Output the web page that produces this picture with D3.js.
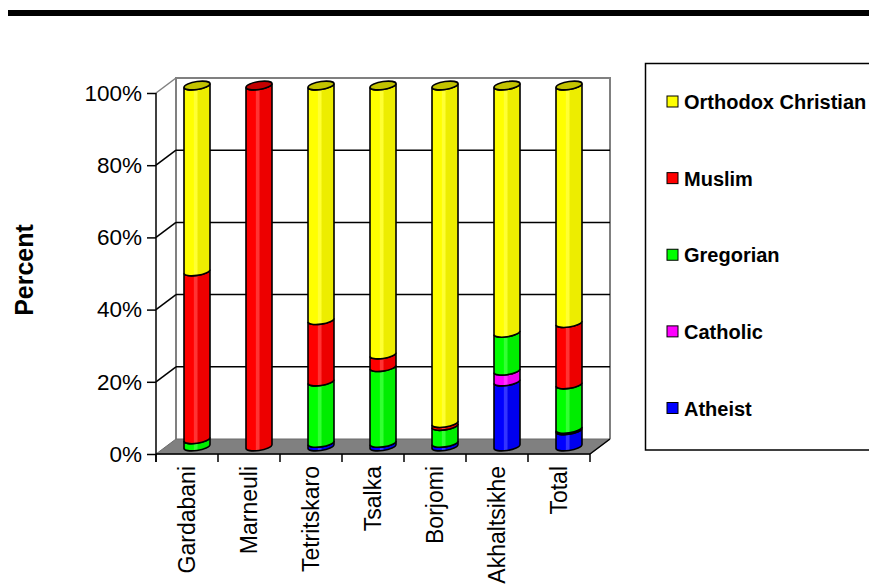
<!DOCTYPE html>
<html>
<head>
<meta charset="utf-8">
<script src="https://cdn.jsdelivr.net/npm/d3@7"></script>
<style>
  html, body { margin: 0; padding: 0; background: #fff; }
  svg { display: block; font-family: "Liberation Sans", Arial, sans-serif; }
</style>
</head>
<body>
<svg id="chart" width="869" height="586"></svg>
<script>
// Religious affiliation by district, percent of respondents
const districts = ["Gardabani", "Marneuli", "Tetritskaro", "Tsalka", "Borjomi", "Akhaltsikhe", "Total"];
const seriesNames = ["Atheist", "Catholic", "Gregorian", "Muslim", "Orthodox Christian"];
const atheist   = [0,   0,   1,  1,   1,   18,  4.5];
const catholic  = [0,   0,   0,  0,   0,   3,   0.4];
const gregorian = [2,   0,   17, 21,  4.7, 10.5, 12.3];
const muslim    = [46.5, 100, 17, 3.5, 0.8, 0,   17];
const orthodox  = [51.5, 0,  65, 74.5, 93.5, 68.5, 65.8];
const yTicks = [0, 20, 40, 60, 80, 100];
const legendOrder = ["Orthodox Christian", "Muslim", "Gregorian", "Catholic", "Atheist"];
const seriesColors = {
  "Orthodox Christian": "#FFFF00",
  "Muslim": "#FF0000",
  "Gregorian": "#00FF00",
  "Catholic": "#FF00FF",
  "Atheist": "#0000FF"
};

const seriesValues = [atheist, catholic, gregorian, muslim, orthodox];
const rows = districts.map((d, i) => {
  const r = { district: d };
  seriesNames.forEach((s, k) => { r[s] = seriesValues[k][i]; });
  return r;
});
const stacked = d3.stack().keys(seriesNames)(rows);

const svg = d3.select("#chart");

// heading rule
svg.append("rect").attr("x", 8).attr("y", 10).attr("width", 861).attr("height", 6).attr("fill", "#000");

// plot geometry: front plane plus a receding depth offset
const x0 = 156, x1 = 590, yBottom = 454, yTop = 93;
const depthX = 20, depthY = -15;
const x = d3.scaleBand().domain(districts).range([x0, x1]).padding(0);
const y = d3.scaleLinear().domain([0, 100]).range([yBottom, yTop]);

// gradients for the cylinder bodies
const defs = svg.append("defs");
Object.entries(seriesColors).forEach(([name, col], i) => {
  const c = d3.rgb(col);
  const g = defs.append("linearGradient").attr("id", "grad" + i)
    .attr("x1", "0%").attr("x2", "100%").attr("y1", "0%").attr("y2", "0%");
  const light = d3.interpolateRgb(c, "#ffffff")(0.2);
  const dark = c.darker(0.2);
  [[0, c], [0.36, c], [0.4, light], [0.5, light], [0.54, dark], [1, dark]].forEach(([o, v]) => {
    g.append("stop").attr("offset", o).attr("stop-color", v);
  });
  seriesColors[name] = { base: col, grad: "url(#grad" + i + ")", top: c.darker(0.75) };
});

// back wall border
svg.append("path")
  .attr("d", `M${x0 + depthX},${yBottom + depthY}V${yTop + depthY}H${x1 + depthX}V${yBottom + depthY}`)
  .attr("fill", "none").attr("stroke", "#808080").attr("stroke-width", 2);

// gridlines on the back wall and their diagonals to the axis
yTicks.filter(v => v > 0).forEach(v => {
  const yy = y(v);
  const col = v === 100 ? "#808080" : "#000";
  if (v < 100) {
    svg.append("line").attr("x1", x0 + depthX).attr("x2", x1 + depthX)
      .attr("y1", yy + depthY).attr("y2", yy + depthY)
      .attr("stroke", "#000").attr("stroke-width", 1.5);
  }
  svg.append("line").attr("x1", x0).attr("y1", yy).attr("x2", x0 + depthX).attr("y2", yy + depthY)
    .attr("stroke", col).attr("stroke-width", 1.5);
});

// floor
svg.append("path")
  .attr("d", `M${x0},${yBottom}L${x0 + depthX},${yBottom + depthY}H${x1 + depthX}L${x1},${yBottom}Z`)
  .attr("fill", "#808080").attr("stroke", "#6a6a6a").attr("stroke-width", 1);
svg.append("line").attr("x1", x1).attr("y1", yBottom).attr("x2", x1 + depthX).attr("y2", yBottom + depthY)
  .attr("stroke", "#000").attr("stroke-width", 1.5);

// y axis
const yAxis = svg.append("g").attr("transform", `translate(${x0},0)`)
  .call(d3.axisLeft(y).tickValues(yTicks).tickFormat(d => d + "%").tickSize(9).tickPadding(5));
yAxis.select(".domain").attr("stroke", "#000").attr("stroke-width", 1.5).attr("d", `M0,${yTop}V${yBottom + 8}`);
yAxis.selectAll(".tick line").attr("stroke", "#000").attr("stroke-width", 1.5);
yAxis.selectAll(".tick text").attr("font-size", 22.5).attr("fill", "#000")
  .attr("font-family", "'Liberation Sans', Arial, sans-serif");

// x axis line with ticks at category boundaries
svg.append("line").attr("x1", x0).attr("x2", x1).attr("y1", yBottom).attr("y2", yBottom)
  .attr("stroke", "#000").attr("stroke-width", 1.5);
const bounds = districts.map(d => x(d)).concat([x1]);
svg.selectAll(".xtick").data(bounds).join("line")
  .attr("x1", d => d).attr("x2", d => d).attr("y1", yBottom).attr("y2", yBottom + 8)
  .attr("stroke", "#000").attr("stroke-width", 1.5);
svg.selectAll(".xlabel").data(districts).join("text")
  .attr("transform", d => `translate(${x(d) + x.bandwidth() / 2},466) rotate(-90)`)
  .attr("text-anchor", "end").attr("dominant-baseline", "central")
  .attr("font-size", 23).attr("fill", "#000").text(d => d);

// y axis title
svg.append("text").attr("transform", "translate(24,270) rotate(-90)")
  .attr("text-anchor", "middle").attr("dominant-baseline", "central")
  .attr("font-size", 25).attr("font-weight", "bold").text("Percent");

// cylinders, placed at mid-depth
const rx = 13, ry = 4;
const cyl = svg.append("g");
districts.forEach((d, i) => {
  const cx = x(d) + x.bandwidth() / 2 + depthX / 2;
  const g = cyl.append("g").attr("transform", `translate(${cx},${depthY / 2}) skewY(-8)`);
  let topVal = 0, topName = null;
  stacked.forEach(layer => {
    const seg = layer[i];
    if (seg[1] - seg[0] <= 0) return;
    const ya = y(seg[0]), yb = y(seg[1]);
    const c = seriesColors[layer.key];
    g.append("path")
      .attr("d", `M${-rx},${yb}V${ya}A${rx},${ry} 0 0 0 ${rx},${ya}V${yb}A${rx},${ry} 0 0 1 ${-rx},${yb}Z`)
      .attr("fill", c.grad).attr("stroke", "#000").attr("stroke-width", 1.6);
    if (seg[1] >= topVal) { topVal = seg[1]; topName = layer.key; }
  });
  if (topName) {
    g.append("ellipse").attr("cx", 0).attr("cy", y(topVal)).attr("rx", rx).attr("ry", ry)
      .attr("fill", seriesColors[topName].top).attr("stroke", "#000").attr("stroke-width", 1.6);
  }
});

// legend
const lg = svg.append("g");
lg.append("rect").attr("x", 645.5).attr("y", 63.5).attr("width", 240).attr("height", 386.5)
  .attr("fill", "#fff").attr("stroke", "#000").attr("stroke-width", 1.5);
const lgY = d3.scalePoint().domain(legendOrder).range([101.5, 408]);
const items = lg.selectAll(".item").data(legendOrder).join("g")
  .attr("transform", d => `translate(667,${lgY(d)})`);
items.append("rect").attr("x", 0).attr("y", -5.5).attr("width", 11).attr("height", 11)
  .attr("fill", d => seriesColors[d].base).attr("stroke", "#000").attr("stroke-width", 1);
items.append("text").attr("x", 17).attr("y", 7.5)
  .attr("font-size", 20).attr("font-weight", "bold").attr("fill", "#000").text(d => d);
</script>
</body>
</html>
